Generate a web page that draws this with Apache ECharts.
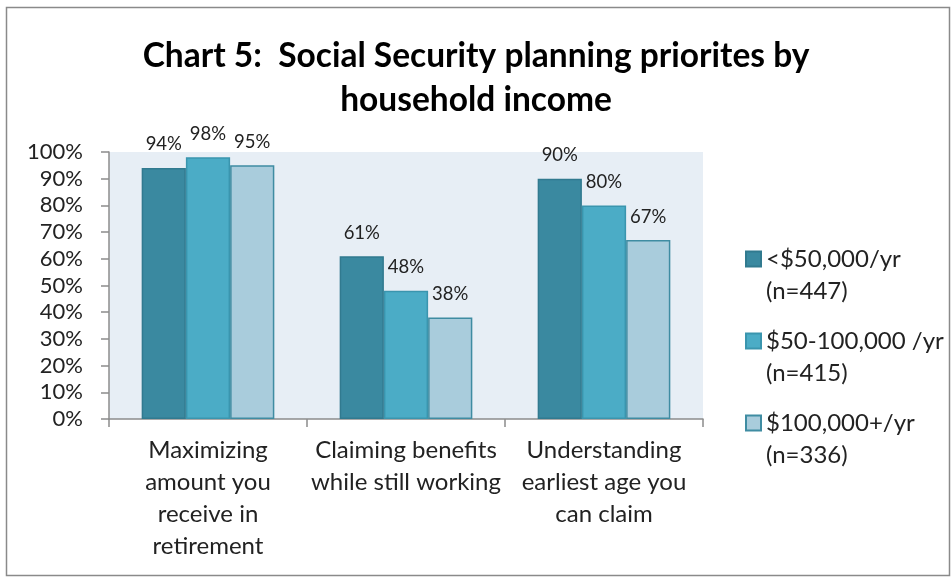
<!DOCTYPE html>
<html>
<head>
<meta charset="utf-8">
<script src="https://cdn.jsdelivr.net/npm/echarts@6/dist/echarts.min.js"></script>
<style>
  html, body { margin: 0; padding: 0; background: #fff; }
  #chart { width: 952px; height: 577px; }
</style>
</head>
<body>
<div id="chart"></div>
<script>
// Share of respondents rating each topic as a priority, by household income
const categories = [
  'Maximizing\namount you\nreceive in\nretirement',
  'Claiming benefits\nwhile still working',
  'Understanding\nearliest age you\ncan claim'
];
const seriesNames = ['<$50,000/yr\n(n=447)', '$50-100,000 /yr\n(n=415)', '$100,000+/yr\n(n=336)'];
const under50k = [94, 61, 90];
const from50to100k = [98, 48, 80];
const over100k = [95, 38, 67];
const yTicks = [0, 10, 20, 30, 40, 50, 60, 70, 80, 90, 100];

const FONT = 'Lato';
const colors = ['#3A89A0', '#4BACC6', '#A9CCDC'];
const borders = ['#317A8F', '#3A95AE', '#3F8CA2'];

function makeSeries(name, values, idx) {
  return {
    name: name,
    type: 'bar',
    barGap: '0%',
    barCategoryGap: '33%',
    itemStyle: { color: colors[idx], borderColor: borders[idx], borderWidth: 1.5 },
    label: {
      show: true,
      position: 'top',
      distance: 14,
      formatter: '{c}%',
      fontFamily: FONT,
      fontSize: 18.5,
      color: '#222'
    },
    data: values
  };
}

const chart = echarts.init(document.getElementById('chart'), null, { renderer: 'canvas' });
chart.setOption({
  animation: false,
  backgroundColor: '#fff',
  title: {
    text: 'Chart 5:  Social Security planning priorites by\nhousehold income',
    left: 'center',
    top: 29,
    textStyle: { fontFamily: FONT, fontWeight: 'bold', fontSize: 33.5, lineHeight: 44, color: '#000' }
  },
  graphic: [{
    type: 'rect',
    shape: { x: 6.5, y: 7.5, width: 943, height: 568 },
    style: { fill: 'none', stroke: '#8A8A8A', lineWidth: 1.5 },
    silent: true
  }],
  legend: {
    orient: 'vertical',
    left: 745,
    top: 242,
    padding: 0,
    itemWidth: 15,
    itemHeight: 64,
    itemGap: 16,
    // square marker level with the first text line of each two-line entry
    icon: 'path://M0,0M0,8.5L15,8.5L15,23.5L0,23.5ZM15,64',
    textStyle: { fontFamily: FONT, fontSize: 24, lineHeight: 32, color: '#222' },
    data: seriesNames
  },
  grid: {
    left: 109, top: 152, right: 249, bottom: 158,
    show: true, backgroundColor: '#E7EEF5', borderWidth: 0
  },
  xAxis: {
    type: 'category',
    data: categories,
    axisLine: { lineStyle: { color: '#8C8C8C', width: 1.5 } },
    axisTick: { show: true, length: 8, lineStyle: { color: '#8C8C8C', width: 1.5 } },
    axisLabel: { interval: 0, margin: 15, fontFamily: FONT, fontSize: 24, lineHeight: 32, color: '#222' }
  },
  yAxis: {
    type: 'value',
    min: yTicks[0],
    max: yTicks[yTicks.length - 1],
    interval: yTicks[1] - yTicks[0],
    axisLine: { show: true, lineStyle: { color: '#8C8C8C', width: 1.5 } },
    axisTick: { show: true, length: 8, lineStyle: { color: '#8C8C8C', width: 1.5 } },
    splitLine: { show: false },
    axisLabel: { margin: 26, formatter: '{value}%', fontFamily: FONT, fontSize: 22, color: '#222' }
  },
  series: [
    makeSeries(seriesNames[0], under50k, 0),
    makeSeries(seriesNames[1], from50to100k, 1),
    makeSeries(seriesNames[2], over100k, 2)
  ]
});
</script>
</body>
</html>
